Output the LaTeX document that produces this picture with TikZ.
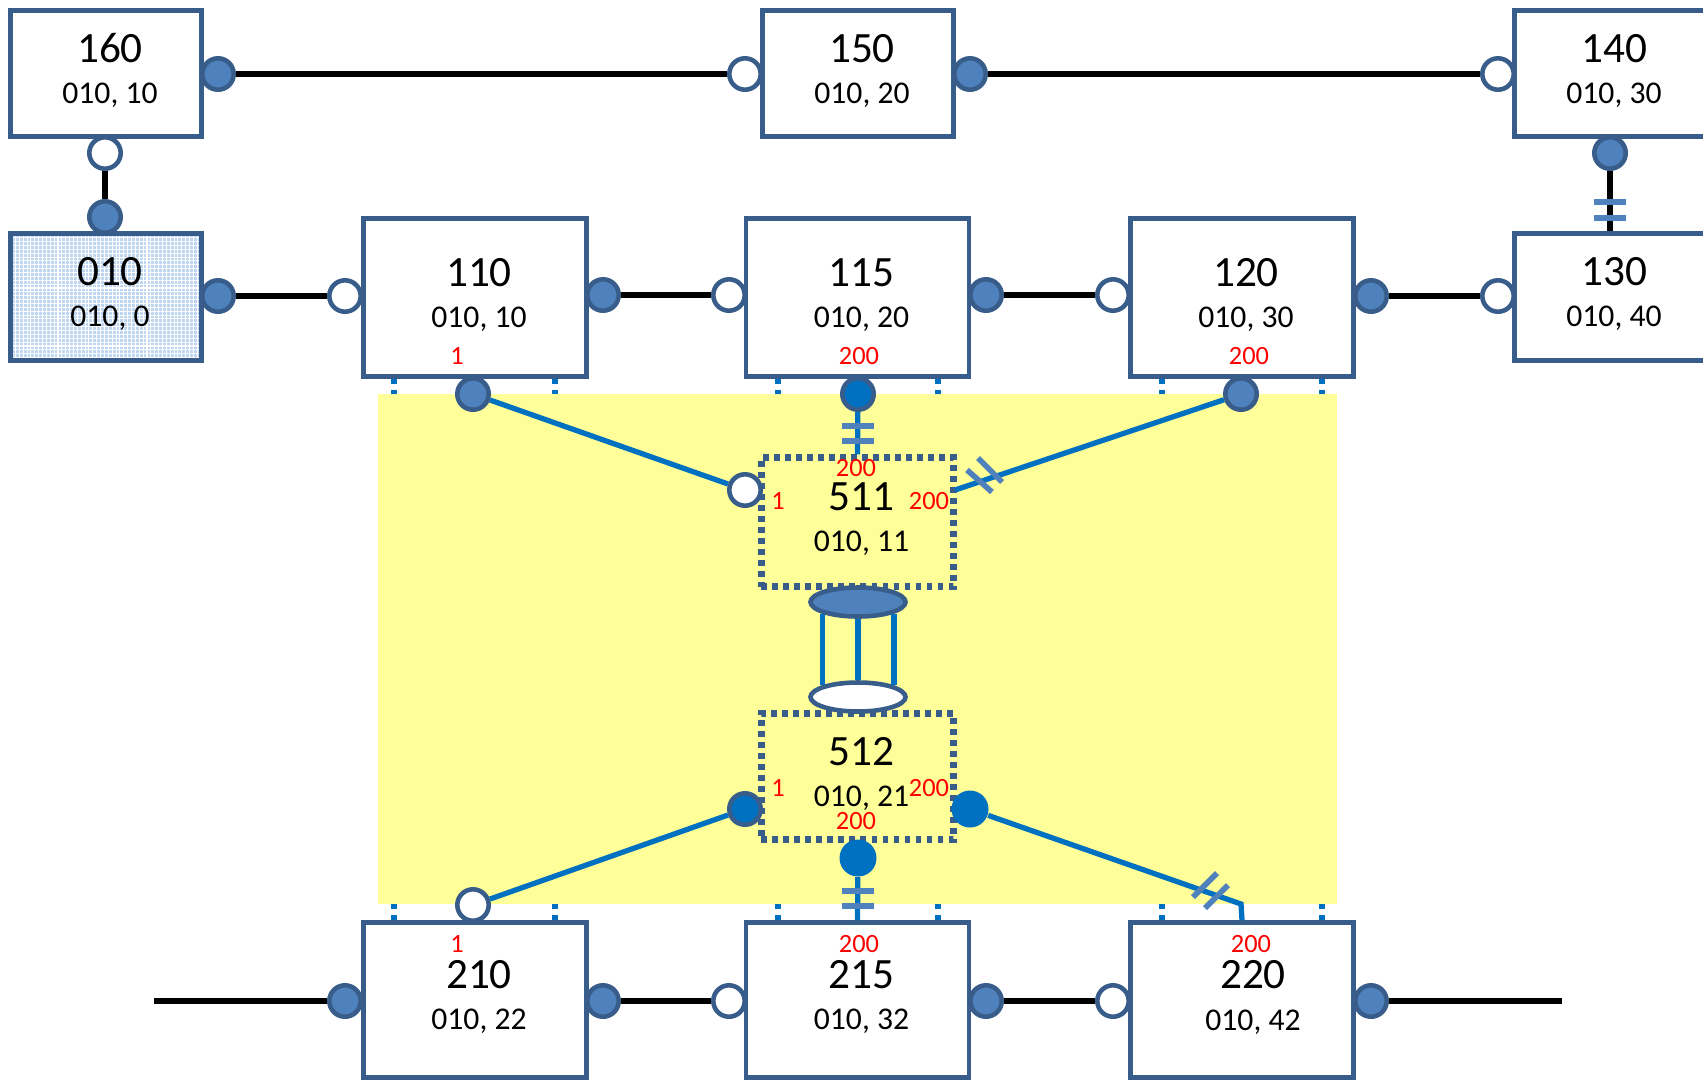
\documentclass[tikz,border=0pt]{standalone}
\usepackage{fontspec}
\setmainfont{Carlito}
\usepackage{tikz}
\usetikzlibrary{calc,shapes.geometric,patterns.meta}

\definecolor{boxline}{HTML}{385D8A}
\definecolor{pinblue}{HTML}{4F81BD}
\definecolor{linkblue}{HTML}{0070C0}
\definecolor{zoneyellow}{HTML}{FFFF99}
\definecolor{homeblue}{HTML}{BFD6F3}

\newcommand{\ttlfont}{\fontsize{12.3}{14}\selectfont}
\newcommand{\sbtfont}{\fontsize{9}{11}\selectfont}
\newcommand{\qtyfont}{\fontsize{7.5}{9}\selectfont}

% box with its number and address line
\newcommand{\ubox}[7][]{%
  \node[unitbox, minimum width=#4, minimum height=#5, #1] (#2) at #3 {};
  \node[ttl] (#2t) at ([xshift=0.04cm,yshift=0.25cm]#2.center) {#6};
  \node[sbt] (#2s) at ([xshift=0.04cm,yshift=-0.195cm]#2.center) {#7};
}

\begin{document}
\begin{tikzpicture}[x=0.01cm, y=-0.01cm,
    unitbox/.style={rectangle, draw=boxline, line width=1.3pt, fill=white, inner sep=0pt},
    homebox/.style={preaction={fill=homeblue}, pattern={Hatch[angle=0,distance=1.1pt,line width=0.3pt]}, pattern color=white},
    dotbox/.style={fill=none, line width=1.8pt, dash pattern=on 0.055cm off 0.055cm},
    ttl/.style={font=\ttlfont, inner sep=0pt},
    sbt/.style={font=\sbtfont, inner sep=0pt, text depth=0pt},
    qty/.style={font=\qtyfont, text=red, inner sep=0pt},
    pinF/.style={circle, draw=boxline, line width=1.3pt, fill=pinblue, minimum size=0.314cm, inner sep=0pt},
    pinO/.style={pinF, fill=white},
    pinB/.style={pinF, fill=linkblue},
    pinS/.style={circle, fill=linkblue, minimum size=0.37cm, inner sep=0pt},
    cylcap/.style={ellipse, draw=boxline, line width=1.3pt, minimum width=0.95cm, minimum height=0.29cm, inner sep=0pt},
    wire/.style={line width=1.8pt, black},
    link/.style={line width=1.5pt, linkblue},
    stub/.style={line width=1.6pt, linkblue, dash pattern=on 0.06cm off 0.06cm},
    tickmark/.style={line width=1.7pt, pinblue},
    slash/.style={line width=1.6pt, pinblue}
]
    \useasboundingbox (0,0) rectangle (1703,1081);
    \clip (0,0) rectangle (1703,1081);

    % shared area
    \fill[zoneyellow] (378,394) rectangle (1337,904);
    \foreach \x in {394,555,778,938,1162,1322} {
        \draw[stub] (\x,378) -- (\x,394);
        \draw[stub] (\x,921) -- (\x,904);
    }

    % boxes
    \ubox{u160}{(106,73.5)}{1.91cm}{1.26cm}{160}{010, 10}
    \ubox{u150}{(858,73.5)}{1.91cm}{1.26cm}{150}{010, 20}
    \ubox{u140}{(1610,73.5)}{1.91cm}{1.26cm}{140}{010, 30}
    \ubox[homebox]{u010}{(106,297)}{1.91cm}{1.27cm}{010}{010, 0}
    \ubox{u130}{(1610,297)}{1.91cm}{1.27cm}{130}{010, 40}
    \ubox{u110}{(475,297.5)}{2.23cm}{1.58cm}{110}{010, 10}
    \ubox{u115}{(857.5,297.5)}{2.23cm}{1.58cm}{115}{010, 20}
    \ubox{u120}{(1242,297.5)}{2.23cm}{1.58cm}{120}{010, 30}
    \ubox[dotbox]{u511}{(857.5,522)}{1.92cm}{1.29cm}{511}{010, 11}
    \ubox[dotbox]{u512}{(857.5,776.5)}{1.92cm}{1.26cm}{512}{010, 21}
    \ubox{u210}{(475,1000)}{2.23cm}{1.55cm}{210}{010, 22}
    \ubox{u215}{(857.5,1000)}{2.23cm}{1.55cm}{215}{010, 32}
    \node[unitbox, minimum width=2.23cm, minimum height=1.55cm] (u220) at (1242,1000) {};
    \node[ttl] (u220t) at (1253,975) {220};
    \node[sbt] (u220s) at (1253,1020.5) {010, 42};

    % port numbers
    \node[qty] (q110) at (457,356) {1};
    \node[qty] (q115) at (859,356) {200};
    \node[qty] (q120) at (1249,356) {200};
    \node[qty] (q511n) at (856,468) {200};
    \node[qty] (q511w) at (778,501) {1};
    \node[qty] (q511e) at (929,501) {200};
    \node[qty] (q512w) at (778,788) {1};
    \node[qty] (q512e) at (929,788) {200};
    \node[qty] (q512s) at (856,821) {200};
    \node[qty] (q210) at (457,944) {1};
    \node[qty] (q215) at (859,944) {200};
    \node[qty] (q220) at (1251,944) {200};

    % ports
    \node[pinF] (c160e) at (218,74) {};
    \node[pinO] (c150w) at (745,74) {};
    \node[pinF] (c150e) at (970,74) {};
    \node[pinO] (c140w) at (1498,74) {};
    \node[pinO] (c160s) at (105,153) {};
    \node[pinF] (c010n) at (105,217) {};
    \node[pinF] (c140s) at (1610,153) {};
    \node[pinF] (c010e) at (218,296) {};
    \node[pinO] (c110w) at (345,296) {};
    \node[pinF] (c110e) at (603,295) {};
    \node[pinO] (c115w) at (729,295) {};
    \node[pinF] (c115e) at (986,295) {};
    \node[pinO] (c120w) at (1113,295) {};
    \node[pinF] (c120e) at (1371,296) {};
    \node[pinO] (c130w) at (1498,296) {};
    \node[pinF] (c110s) at (473,394) {};
    \node[pinB] (c115s) at (858,394) {};
    \node[pinF] (c120s) at (1241,394) {};
    \node[pinO] (c511w) at (745,490) {};
    \node[pinB] (c512w) at (745,809) {};
    \node[pinS] (c512e) at (970,809) {};
    \node[pinS] (c512s) at (858,858) {};
    \node[pinO] (c210n) at (473,905) {};
    \node[pinF] (c210w) at (345,1001) {};
    \node[pinF] (c210e) at (603,1001) {};
    \node[pinO] (c215w) at (729,1001) {};
    \node[pinF] (c215e) at (986,1001) {};
    \node[pinO] (c220w) at (1113,1001) {};
    \node[pinF] (c220e) at (1371,1001) {};
    \coordinate (p511e) at (955,490);
    \coordinate (k220) at (1241,904);
    \coordinate (endL) at (154,1001);
    \coordinate (endR) at (1562,1001);

    % ring links
    \draw[wire] (c160e) -- (c150w);
    \draw[wire] (c150e) -- (c140w);
    \draw[wire] (c160s) -- (c010n);
    \draw[wire] (c140s) -- (u130.north) coordinate[pos=0.52] (m1) coordinate[pos=0.78] (m2);
    \draw[wire] (c010e) -- (c110w);
    \draw[wire] (c110e) -- (c115w);
    \draw[wire] (c115e) -- (c120w);
    \draw[wire] (c120e) -- (c130w);
    \draw[wire] (endL) -- (c210w);
    \draw[wire] (c210e) -- (c215w);
    \draw[wire] (c215e) -- (c220w);
    \draw[wire] (c220e) -- (endR);

    % links through the shared area
    \draw[link] (c110s) -- (c511w);
    \draw[link] (c115s) -- (u511.north) coordinate[pos=0.33] (m3) coordinate[pos=0.68] (m4);
    \draw[link] (c120s) -- (p511e);
    \draw[link] (c512w) -- (c210n);
    \draw[link] (c512s) -- (u215.north) coordinate[pos=0.31] (m5) coordinate[pos=0.66] (m6);
    \draw[link] (c512e) -- (k220) -- (u220.north);

    \foreach \m in {m1,m2,m3,m4,m5,m6}
        \draw[tickmark] ([xshift=-0.16cm]\m) -- ([xshift=0.16cm]\m);
    \draw[slash] (967,470) -- (992,492);
    \draw[slash] (978,458) -- (1002,482);
    \draw[slash] (1193,897) -- (1217,873);
    \draw[slash] (1205,908) -- (1228,885);

    % bundle between 511 and 512
    \node[cylcap, fill=pinblue] (capTop) at (858,602) {};
    \node[cylcap, fill=white] (capBot) at (858,697) {};
    \draw[link] (capTop.south) -- (capBot.north);
    \draw[link] (capTop.198) -- (capBot.162);
    \draw[link] (capTop.342) -- (capBot.18);
\end{tikzpicture}
\end{document}
